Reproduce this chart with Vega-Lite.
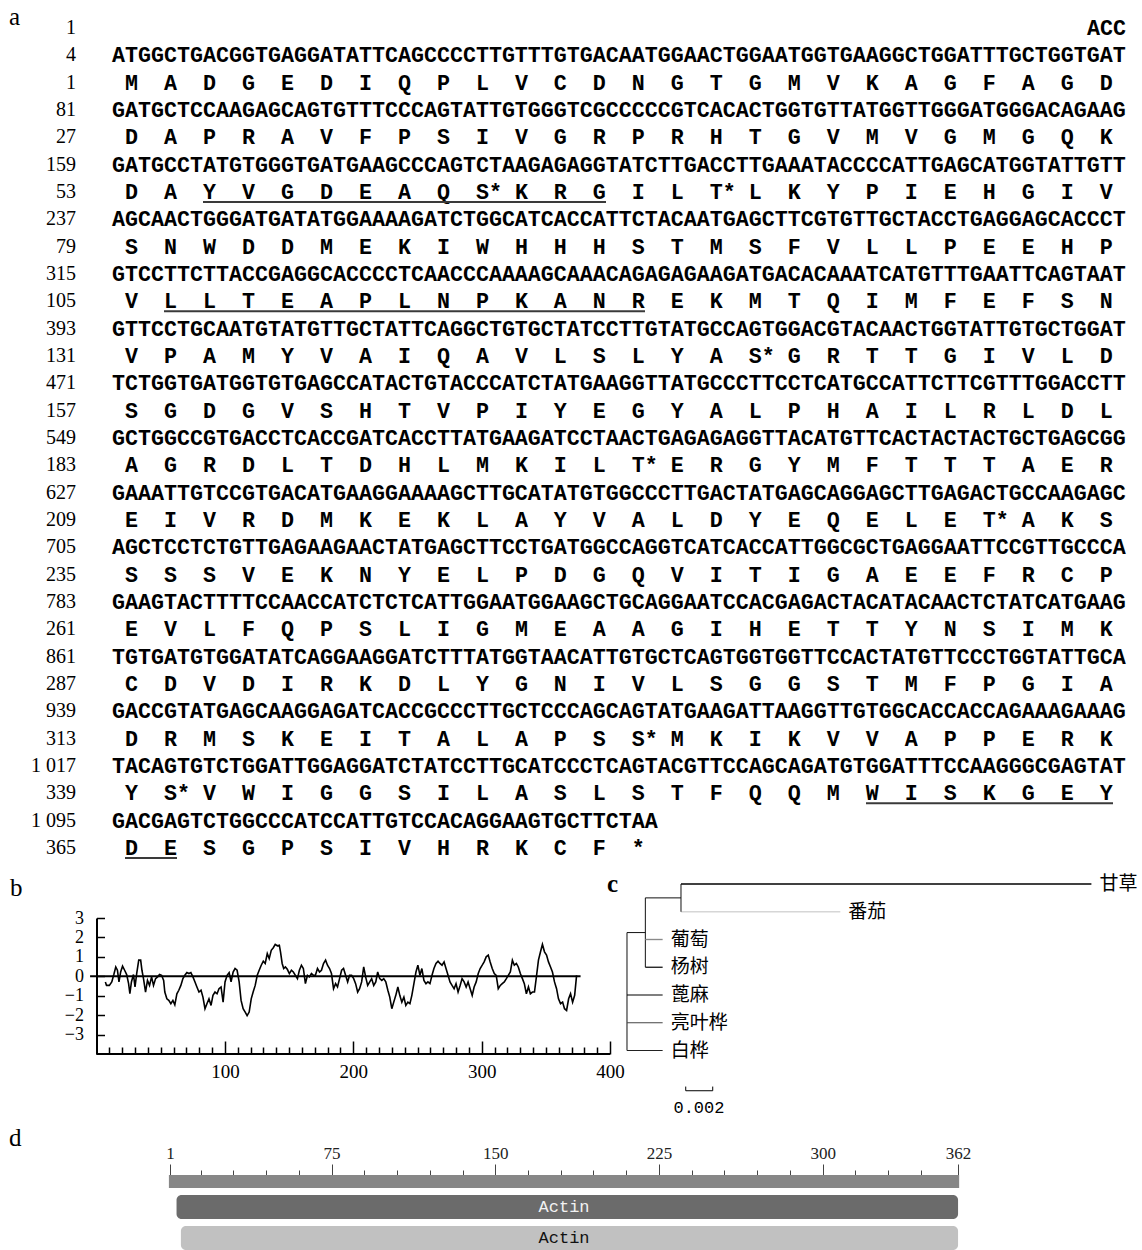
{
"$schema": "https://vega.github.io/schema/vega-lite/v6.json",
"padding": 0,
"background": "white",
"spacing": 0,
"bounds": "flush",
"config": {"view": {"stroke": null}, "font": "Liberation Serif", "axis": {"grid": false, "title": null, "labelColor": "#000", "domainColor": "#000", "tickColor": "#000", "labelFont": "Liberation Serif"}},
"vconcat": [
{
"width": 1142, "height": 918,
"data": {"values": [
{"r": 0, "kind": "nt", "num": "1", "seq": ""},
{"r": 1, "kind": "nt", "num": "4", "seq": "ATGGCTGACGGTGAGGATATTCAGCCCCTTGTTTGTGACAATGGAACTGGAATGGTGAAGGCTGGATTTGCTGGTGAT"},
{"r": 2, "kind": "aa", "num": "1", "seq": "M\u00a0\u00a0A\u00a0\u00a0D\u00a0\u00a0G\u00a0\u00a0E\u00a0\u00a0D\u00a0\u00a0I\u00a0\u00a0Q\u00a0\u00a0P\u00a0\u00a0L\u00a0\u00a0V\u00a0\u00a0C\u00a0\u00a0D\u00a0\u00a0N\u00a0\u00a0G\u00a0\u00a0T\u00a0\u00a0G\u00a0\u00a0M\u00a0\u00a0V\u00a0\u00a0K\u00a0\u00a0A\u00a0\u00a0G\u00a0\u00a0F\u00a0\u00a0A\u00a0\u00a0G\u00a0\u00a0D"},
{"r": 3, "kind": "nt", "num": "81", "seq": "GATGCTCCAAGAGCAGTGTTTCCCAGTATTGTGGGTCGCCCCCGTCACACTGGTGTTATGGTTGGGATGGGACAGAAG"},
{"r": 4, "kind": "aa", "num": "27", "seq": "D\u00a0\u00a0A\u00a0\u00a0P\u00a0\u00a0R\u00a0\u00a0A\u00a0\u00a0V\u00a0\u00a0F\u00a0\u00a0P\u00a0\u00a0S\u00a0\u00a0I\u00a0\u00a0V\u00a0\u00a0G\u00a0\u00a0R\u00a0\u00a0P\u00a0\u00a0R\u00a0\u00a0H\u00a0\u00a0T\u00a0\u00a0G\u00a0\u00a0V\u00a0\u00a0M\u00a0\u00a0V\u00a0\u00a0G\u00a0\u00a0M\u00a0\u00a0G\u00a0\u00a0Q\u00a0\u00a0K"},
{"r": 5, "kind": "nt", "num": "159", "seq": "GATGCCTATGTGGGTGATGAAGCCCAGTCTAAGAGAGGTATCTTGACCTTGAAATACCCCATTGAGCATGGTATTGTT"},
{"r": 6, "kind": "aa", "num": "53", "seq": "D\u00a0\u00a0A\u00a0\u00a0Y\u00a0\u00a0V\u00a0\u00a0G\u00a0\u00a0D\u00a0\u00a0E\u00a0\u00a0A\u00a0\u00a0Q\u00a0\u00a0S*\u00a0K\u00a0\u00a0R\u00a0\u00a0G\u00a0\u00a0I\u00a0\u00a0L\u00a0\u00a0T*\u00a0L\u00a0\u00a0K\u00a0\u00a0Y\u00a0\u00a0P\u00a0\u00a0I\u00a0\u00a0E\u00a0\u00a0H\u00a0\u00a0G\u00a0\u00a0I\u00a0\u00a0V"},
{"r": 7, "kind": "nt", "num": "237", "seq": "AGCAACTGGGATGATATGGAAAAGATCTGGCATCACCATTCTACAATGAGCTTCGTGTTGCTACCTGAGGAGCACCCT"},
{"r": 8, "kind": "aa", "num": "79", "seq": "S\u00a0\u00a0N\u00a0\u00a0W\u00a0\u00a0D\u00a0\u00a0D\u00a0\u00a0M\u00a0\u00a0E\u00a0\u00a0K\u00a0\u00a0I\u00a0\u00a0W\u00a0\u00a0H\u00a0\u00a0H\u00a0\u00a0H\u00a0\u00a0S\u00a0\u00a0T\u00a0\u00a0M\u00a0\u00a0S\u00a0\u00a0F\u00a0\u00a0V\u00a0\u00a0L\u00a0\u00a0L\u00a0\u00a0P\u00a0\u00a0E\u00a0\u00a0E\u00a0\u00a0H\u00a0\u00a0P"},
{"r": 9, "kind": "nt", "num": "315", "seq": "GTCCTTCTTACCGAGGCACCCCTCAACCCAAAAGCAAACAGAGAGAAGATGACACAAATCATGTTTGAATTCAGTAAT"},
{"r": 10, "kind": "aa", "num": "105", "seq": "V\u00a0\u00a0L\u00a0\u00a0L\u00a0\u00a0T\u00a0\u00a0E\u00a0\u00a0A\u00a0\u00a0P\u00a0\u00a0L\u00a0\u00a0N\u00a0\u00a0P\u00a0\u00a0K\u00a0\u00a0A\u00a0\u00a0N\u00a0\u00a0R\u00a0\u00a0E\u00a0\u00a0K\u00a0\u00a0M\u00a0\u00a0T\u00a0\u00a0Q\u00a0\u00a0I\u00a0\u00a0M\u00a0\u00a0F\u00a0\u00a0E\u00a0\u00a0F\u00a0\u00a0S\u00a0\u00a0N"},
{"r": 11, "kind": "nt", "num": "393", "seq": "GTTCCTGCAATGTATGTTGCTATTCAGGCTGTGCTATCCTTGTATGCCAGTGGACGTACAACTGGTATTGTGCTGGAT"},
{"r": 12, "kind": "aa", "num": "131", "seq": "V\u00a0\u00a0P\u00a0\u00a0A\u00a0\u00a0M\u00a0\u00a0Y\u00a0\u00a0V\u00a0\u00a0A\u00a0\u00a0I\u00a0\u00a0Q\u00a0\u00a0A\u00a0\u00a0V\u00a0\u00a0L\u00a0\u00a0S\u00a0\u00a0L\u00a0\u00a0Y\u00a0\u00a0A\u00a0\u00a0S*\u00a0G\u00a0\u00a0R\u00a0\u00a0T\u00a0\u00a0T\u00a0\u00a0G\u00a0\u00a0I\u00a0\u00a0V\u00a0\u00a0L\u00a0\u00a0D"},
{"r": 13, "kind": "nt", "num": "471", "seq": "TCTGGTGATGGTGTGAGCCATACTGTACCCATCTATGAAGGTTATGCCCTTCCTCATGCCATTCTTCGTTTGGACCTT"},
{"r": 14, "kind": "aa", "num": "157", "seq": "S\u00a0\u00a0G\u00a0\u00a0D\u00a0\u00a0G\u00a0\u00a0V\u00a0\u00a0S\u00a0\u00a0H\u00a0\u00a0T\u00a0\u00a0V\u00a0\u00a0P\u00a0\u00a0I\u00a0\u00a0Y\u00a0\u00a0E\u00a0\u00a0G\u00a0\u00a0Y\u00a0\u00a0A\u00a0\u00a0L\u00a0\u00a0P\u00a0\u00a0H\u00a0\u00a0A\u00a0\u00a0I\u00a0\u00a0L\u00a0\u00a0R\u00a0\u00a0L\u00a0\u00a0D\u00a0\u00a0L"},
{"r": 15, "kind": "nt", "num": "549", "seq": "GCTGGCCGTGACCTCACCGATCACCTTATGAAGATCCTAACTGAGAGAGGTTACATGTTCACTACTACTGCTGAGCGG"},
{"r": 16, "kind": "aa", "num": "183", "seq": "A\u00a0\u00a0G\u00a0\u00a0R\u00a0\u00a0D\u00a0\u00a0L\u00a0\u00a0T\u00a0\u00a0D\u00a0\u00a0H\u00a0\u00a0L\u00a0\u00a0M\u00a0\u00a0K\u00a0\u00a0I\u00a0\u00a0L\u00a0\u00a0T*\u00a0E\u00a0\u00a0R\u00a0\u00a0G\u00a0\u00a0Y\u00a0\u00a0M\u00a0\u00a0F\u00a0\u00a0T\u00a0\u00a0T\u00a0\u00a0T\u00a0\u00a0A\u00a0\u00a0E\u00a0\u00a0R"},
{"r": 17, "kind": "nt", "num": "627", "seq": "GAAATTGTCCGTGACATGAAGGAAAAGCTTGCATATGTGGCCCTTGACTATGAGCAGGAGCTTGAGACTGCCAAGAGC"},
{"r": 18, "kind": "aa", "num": "209", "seq": "E\u00a0\u00a0I\u00a0\u00a0V\u00a0\u00a0R\u00a0\u00a0D\u00a0\u00a0M\u00a0\u00a0K\u00a0\u00a0E\u00a0\u00a0K\u00a0\u00a0L\u00a0\u00a0A\u00a0\u00a0Y\u00a0\u00a0V\u00a0\u00a0A\u00a0\u00a0L\u00a0\u00a0D\u00a0\u00a0Y\u00a0\u00a0E\u00a0\u00a0Q\u00a0\u00a0E\u00a0\u00a0L\u00a0\u00a0E\u00a0\u00a0T*\u00a0A\u00a0\u00a0K\u00a0\u00a0S"},
{"r": 19, "kind": "nt", "num": "705", "seq": "AGCTCCTCTGTTGAGAAGAACTATGAGCTTCCTGATGGCCAGGTCATCACCATTGGCGCTGAGGAATTCCGTTGCCCA"},
{"r": 20, "kind": "aa", "num": "235", "seq": "S\u00a0\u00a0S\u00a0\u00a0S\u00a0\u00a0V\u00a0\u00a0E\u00a0\u00a0K\u00a0\u00a0N\u00a0\u00a0Y\u00a0\u00a0E\u00a0\u00a0L\u00a0\u00a0P\u00a0\u00a0D\u00a0\u00a0G\u00a0\u00a0Q\u00a0\u00a0V\u00a0\u00a0I\u00a0\u00a0T\u00a0\u00a0I\u00a0\u00a0G\u00a0\u00a0A\u00a0\u00a0E\u00a0\u00a0E\u00a0\u00a0F\u00a0\u00a0R\u00a0\u00a0C\u00a0\u00a0P"},
{"r": 21, "kind": "nt", "num": "783", "seq": "GAAGTACTTTTCCAACCATCTCTCATTGGAATGGAAGCTGCAGGAATCCACGAGACTACATACAACTCTATCATGAAG"},
{"r": 22, "kind": "aa", "num": "261", "seq": "E\u00a0\u00a0V\u00a0\u00a0L\u00a0\u00a0F\u00a0\u00a0Q\u00a0\u00a0P\u00a0\u00a0S\u00a0\u00a0L\u00a0\u00a0I\u00a0\u00a0G\u00a0\u00a0M\u00a0\u00a0E\u00a0\u00a0A\u00a0\u00a0A\u00a0\u00a0G\u00a0\u00a0I\u00a0\u00a0H\u00a0\u00a0E\u00a0\u00a0T\u00a0\u00a0T\u00a0\u00a0Y\u00a0\u00a0N\u00a0\u00a0S\u00a0\u00a0I\u00a0\u00a0M\u00a0\u00a0K"},
{"r": 23, "kind": "nt", "num": "861", "seq": "TGTGATGTGGATATCAGGAAGGATCTTTATGGTAACATTGTGCTCAGTGGTGGTTCCACTATGTTCCCTGGTATTGCA"},
{"r": 24, "kind": "aa", "num": "287", "seq": "C\u00a0\u00a0D\u00a0\u00a0V\u00a0\u00a0D\u00a0\u00a0I\u00a0\u00a0R\u00a0\u00a0K\u00a0\u00a0D\u00a0\u00a0L\u00a0\u00a0Y\u00a0\u00a0G\u00a0\u00a0N\u00a0\u00a0I\u00a0\u00a0V\u00a0\u00a0L\u00a0\u00a0S\u00a0\u00a0G\u00a0\u00a0G\u00a0\u00a0S\u00a0\u00a0T\u00a0\u00a0M\u00a0\u00a0F\u00a0\u00a0P\u00a0\u00a0G\u00a0\u00a0I\u00a0\u00a0A"},
{"r": 25, "kind": "nt", "num": "939", "seq": "GACCGTATGAGCAAGGAGATCACCGCCCTTGCTCCCAGCAGTATGAAGATTAAGGTTGTGGCACCACCAGAAAGAAAG"},
{"r": 26, "kind": "aa", "num": "313", "seq": "D\u00a0\u00a0R\u00a0\u00a0M\u00a0\u00a0S\u00a0\u00a0K\u00a0\u00a0E\u00a0\u00a0I\u00a0\u00a0T\u00a0\u00a0A\u00a0\u00a0L\u00a0\u00a0A\u00a0\u00a0P\u00a0\u00a0S\u00a0\u00a0S*\u00a0M\u00a0\u00a0K\u00a0\u00a0I\u00a0\u00a0K\u00a0\u00a0V\u00a0\u00a0V\u00a0\u00a0A\u00a0\u00a0P\u00a0\u00a0P\u00a0\u00a0E\u00a0\u00a0R\u00a0\u00a0K"},
{"r": 27, "kind": "nt", "num": "1 017", "seq": "TACAGTGTCTGGATTGGAGGATCTATCCTTGCATCCCTCAGTACGTTCCAGCAGATGTGGATTTCCAAGGGCGAGTAT"},
{"r": 28, "kind": "aa", "num": "339", "seq": "Y\u00a0\u00a0S*\u00a0V\u00a0\u00a0W\u00a0\u00a0I\u00a0\u00a0G\u00a0\u00a0G\u00a0\u00a0S\u00a0\u00a0I\u00a0\u00a0L\u00a0\u00a0A\u00a0\u00a0S\u00a0\u00a0L\u00a0\u00a0S\u00a0\u00a0T\u00a0\u00a0F\u00a0\u00a0Q\u00a0\u00a0Q\u00a0\u00a0M\u00a0\u00a0W\u00a0\u00a0I\u00a0\u00a0S\u00a0\u00a0K\u00a0\u00a0G\u00a0\u00a0E\u00a0\u00a0Y"},
{"r": 29, "kind": "nt", "num": "1 095", "seq": "GACGAGTCTGGCCCATCCATTGTCCACAGGAAGTGCTTCTAA"},
{"r": 30, "kind": "aa", "num": "365", "seq": "D\u00a0\u00a0E\u00a0\u00a0S\u00a0\u00a0G\u00a0\u00a0P\u00a0\u00a0S\u00a0\u00a0I\u00a0\u00a0V\u00a0\u00a0H\u00a0\u00a0R\u00a0\u00a0K\u00a0\u00a0C\u00a0\u00a0F\u00a0\u00a0*"}
]},
"layer": [
{"transform": [{"filter": "datum.kind === 'nt'"}],
 "mark": {"type": "text", "align": "left", "baseline": "middle", "font": "Liberation Mono", "fontWeight": "bold", "fontSize": 21.67, "color": "#000"},
 "encoding": {
  "x": {"datum": 0, "type": "quantitative", "scale": {"type": "linear", "domain": [-8.6154, 79.2308], "nice": false, "zero": false}, "axis": null},
  "y": {"field": "r", "type": "quantitative", "scale": {"type": "linear", "domain": [-1.0245, 32.565], "nice": false, "zero": false, "reverse": true}, "axis": null},
  "text": {"field": "seq"}}},
{"transform": [{"filter": "datum.kind === 'aa'"}],
 "mark": {"type": "text", "align": "left", "baseline": "middle", "font": "Liberation Mono", "fontWeight": "bold", "fontSize": 21.67, "color": "#000"},
 "encoding": {
  "x": {"datum": 1, "type": "quantitative"},
  "y": {"field": "r", "type": "quantitative"},
  "text": {"field": "seq"}}},
{"mark": {"type": "text", "align": "right", "baseline": "middle", "font": "Liberation Serif", "fontSize": 20, "dx": -36, "color": "#000"},
 "encoding": {
  "x": {"datum": 0, "type": "quantitative"},
  "y": {"field": "r", "type": "quantitative"},
  "text": {"field": "num"}}},
{"data": {"values": [{"r": 0, "s": "ACC"}]},
 "mark": {"type": "text", "align": "right", "baseline": "middle", "font": "Liberation Mono", "fontWeight": "bold", "fontSize": 21.67, "color": "#000"},
 "encoding": {
  "x": {"datum": 78, "type": "quantitative"},
  "y": {"field": "r", "type": "quantitative"},
  "text": {"field": "s"}}},
{"data": {"values": [{"r": 6, "c1": 7, "c2": 38}, {"r": 10, "c1": 4, "c2": 41}, {"r": 28, "c1": 58, "c2": 77}, {"r": 30, "c1": 1, "c2": 5}]},
 "mark": {"type": "rule", "strokeWidth": 2, "color": "#3a3a3a", "yOffset": 10},
 "encoding": {
  "x": {"field": "c1", "type": "quantitative"},
  "x2": {"field": "c2"},
  "y": {"field": "r", "type": "quantitative"}}},
{"data": {"values": [{"t": "a"}]},
 "mark": {"type": "text", "align": "left", "baseline": "middle", "font": "Liberation Serif", "fontSize": 25, "color": "#000"},
 "encoding": {
  "x": {"datum": -7.92, "type": "quantitative"},
  "y": {"datum": -0.4, "type": "quantitative"},
  "text": {"field": "t"}}}
]
},
{
"width": 1142, "height": 136,
"layer": [
{"layer": [
{"data": {"values": [
{"p":6.9,"h":-0.29},{"p":7.8,"h":-0.47},{"p":10.0,"h":-0.47},{"p":11.9,"h":-0.29},{"p":13.5,"h":0.09},{"p":15.0,"h":0.48},{"p":16.3,"h":0.31},{"p":17.5,"h":-0.29},{"p":18.8,"h":0.22},{"p":20.3,"h":0.52},{"p":21.9,"h":0.31},{"p":23.5,"h":0.09},{"p":25.0,"h":-0.38},{"p":26.0,"h":-0.9},{"p":27.2,"h":-0.29},{"p":28.8,"h":0.09},{"p":30.0,"h":-0.55},{"p":31.3,"h":0.14},{"p":32.9,"h":0.83},{"p":34.4,"h":0.83},{"p":35.4,"h":0.31},{"p":36.6,"h":-0.12},{"p":38.2,"h":-0.81},{"p":39.7,"h":-0.21},{"p":41.3,"h":-0.47},{"p":42.9,"h":-0.03},{"p":44.4,"h":-0.47},{"p":46.0,"h":-0.12},{"p":47.6,"h":-0.03},{"p":49.1,"h":0.09},{"p":50.7,"h":0.05},{"p":52.3,"h":-0.21},{"p":53.2,"h":-0.81},{"p":54.8,"h":-1.16},{"p":56.3,"h":-1.24},{"p":57.9,"h":-1.41},{"p":59.5,"h":-1.24},{"p":61.0,"h":-1.47},{"p":62.6,"h":-0.9},{"p":64.1,"h":-0.72},{"p":65.7,"h":-0.47},{"p":67.3,"h":-0.12},{"p":68.8,"h":0.05},{"p":70.4,"h":0.19},{"p":72.0,"h":0.14},{"p":73.5,"h":0.19},{"p":75.1,"h":-0.03},{"p":76.7,"h":-0.29},{"p":78.2,"h":-0.55},{"p":79.8,"h":-0.81},{"p":81.4,"h":-0.72},{"p":82.9,"h":-1.07},{"p":84.5,"h":-1.67},{"p":86.0,"h":-1.41},{"p":87.6,"h":-1.16},{"p":89.2,"h":-1.5},{"p":90.7,"h":-0.98},{"p":92.3,"h":-0.81},{"p":93.9,"h":-0.9},{"p":95.4,"h":-0.64},{"p":97.0,"h":-0.55},{"p":98.6,"h":-1.33},{"p":100.1,"h":-0.29},{"p":101.7,"h":0.05},{"p":103.3,"h":0.19},{"p":104.8,"h":-0.29},{"p":106.4,"h":0.22},{"p":107.9,"h":0.4},{"p":109.5,"h":0.31},{"p":111.1,"h":-0.29},{"p":112.6,"h":-1.24},{"p":114.2,"h":-1.67},{"p":115.8,"h":-1.84},{"p":117.3,"h":-2.02},{"p":118.9,"h":-1.84},{"p":120.5,"h":-1.16},{"p":122.0,"h":-0.81},{"p":123.6,"h":-0.47},{"p":125.2,"h":0.05},{"p":126.7,"h":0.31},{"p":128.3,"h":0.57},{"p":129.9,"h":0.78},{"p":131.4,"h":0.66},{"p":133.0,"h":1.17},{"p":134.5,"h":0.91},{"p":136.1,"h":1.34},{"p":137.7,"h":1.47},{"p":139.2,"h":1.64},{"p":140.8,"h":1.57},{"p":142.4,"h":1.6},{"p":143.3,"h":1.26},{"p":144.6,"h":0.66},{"p":145.8,"h":0.4},{"p":147.1,"h":0.48},{"p":148.6,"h":0.36},{"p":150.2,"h":0.14},{"p":151.8,"h":0.31},{"p":153.3,"h":0.22},{"p":154.9,"h":0.05},{"p":156.5,"h":-0.12},{"p":158.0,"h":0.31},{"p":159.6,"h":0.57},{"p":161.1,"h":0.4},{"p":162.7,"h":-0.38},{"p":164.3,"h":0.05},{"p":165.8,"h":-0.03},{"p":167.4,"h":0.14},{"p":169.0,"h":0.05},{"p":170.5,"h":0.05},{"p":172.1,"h":0.4},{"p":173.7,"h":0.22},{"p":175.2,"h":0.31},{"p":176.8,"h":0.66},{"p":178.4,"h":0.83},{"p":179.9,"h":0.57},{"p":181.5,"h":0.4},{"p":183.0,"h":0.14},{"p":184.6,"h":-0.64},{"p":186.2,"h":-0.38},{"p":187.7,"h":-0.55},{"p":189.3,"h":-0.12},{"p":190.9,"h":0.31},{"p":192.4,"h":0.4},{"p":194.0,"h":0.05},{"p":195.6,"h":-0.29},{"p":197.1,"h":0.05},{"p":198.7,"h":0.05},{"p":200.3,"h":-0.12},{"p":201.8,"h":-0.38},{"p":203.4,"h":-0.81},{"p":204.9,"h":-0.64},{"p":206.5,"h":-0.29},{"p":208.1,"h":0.48},{"p":209.6,"h":-0.03},{"p":211.2,"h":-0.47},{"p":212.8,"h":-0.29},{"p":214.3,"h":-0.12},{"p":215.9,"h":-0.47},{"p":217.5,"h":-0.29},{"p":219.0,"h":0.22},{"p":220.6,"h":-0.12},{"p":222.2,"h":-0.21},{"p":223.7,"h":-0.12},{"p":225.3,"h":-0.29},{"p":226.9,"h":-0.72},{"p":228.4,"h":-1.07},{"p":230.0,"h":-1.67},{"p":231.5,"h":-1.33},{"p":233.1,"h":-0.98},{"p":234.7,"h":-0.55},{"p":236.2,"h":-0.98},{"p":237.8,"h":-1.33},{"p":239.4,"h":-1.07},{"p":240.9,"h":-1.5},{"p":242.5,"h":-1.33},{"p":244.1,"h":-1.41},{"p":245.6,"h":-0.98},{"p":247.2,"h":-0.38},{"p":248.8,"h":0.22},{"p":250.3,"h":0.57},{"p":251.9,"h":0.05},{"p":253.4,"h":0.4},{"p":255.0,"h":-0.21},{"p":256.6,"h":-0.38},{"p":258.1,"h":-0.29},{"p":259.7,"h":-0.38},{"p":261.3,"h":0.05},{"p":262.8,"h":0.4},{"p":264.4,"h":0.66},{"p":266.0,"h":0.78},{"p":267.5,"h":0.66},{"p":269.1,"h":0.57},{"p":270.7,"h":0.74},{"p":272.2,"h":0.4},{"p":273.8,"h":0.05},{"p":275.3,"h":-0.29},{"p":276.9,"h":-0.47},{"p":278.5,"h":-0.64},{"p":280.0,"h":-0.38},{"p":281.6,"h":-0.81},{"p":283.2,"h":-0.47},{"p":284.7,"h":-0.12},{"p":286.3,"h":-0.29},{"p":287.9,"h":-0.55},{"p":289.4,"h":-0.29},{"p":291.0,"h":-0.64},{"p":292.6,"h":-0.98},{"p":294.1,"h":-0.55},{"p":295.7,"h":-0.29},{"p":297.3,"h":0.14},{"p":298.8,"h":0.4},{"p":300.4,"h":0.57},{"p":301.9,"h":0.74},{"p":303.5,"h":1.0},{"p":305.1,"h":1.09},{"p":306.6,"h":0.74},{"p":308.2,"h":0.4},{"p":309.8,"h":0.14},{"p":311.3,"h":0.05},{"p":312.9,"h":-0.64},{"p":314.5,"h":-0.47},{"p":316.0,"h":-0.38},{"p":317.6,"h":-0.29},{"p":319.2,"h":-0.12},{"p":320.7,"h":0.05},{"p":322.3,"h":0.22},{"p":323.9,"h":0.83},{"p":325.4,"h":0.57},{"p":327.0,"h":0.66},{"p":328.5,"h":0.48},{"p":330.1,"h":0.14},{"p":331.7,"h":-0.12},{"p":333.2,"h":-0.38},{"p":334.8,"h":-0.9},{"p":336.4,"h":-0.55},{"p":337.9,"h":-0.9},{"p":339.5,"h":-0.81},{"p":341.1,"h":-0.81},{"p":342.6,"h":-0.03},{"p":344.2,"h":0.83},{"p":345.8,"h":1.26},{"p":347.3,"h":1.64},{"p":348.9,"h":1.26},{"p":350.5,"h":1.09},{"p":352.0,"h":0.74},{"p":353.6,"h":0.48},{"p":355.1,"h":0.22},{"p":356.7,"h":-0.29},{"p":358.3,"h":-0.64},{"p":359.8,"h":-1.16},{"p":361.4,"h":-1.41},{"p":363.0,"h":-1.33},{"p":364.5,"h":-1.67},{"p":366.1,"h":-1.76},{"p":367.7,"h":-1.16},{"p":369.2,"h":-0.9},{"p":370.8,"h":-1.33},{"p":372.4,"h":-0.98},{"p":373.9,"h":0.05}
]},
 "mark": {"type": "line", "color": "#000", "strokeWidth": 1.6},
 "encoding": {
  "x": {"field": "p", "type": "quantitative", "scale": {"domain": [-75.156, 814.25], "nice": false, "zero": false},
   "axis": {"orient": "bottom", "domain": false, "values": [100, 200, 300, 400], "labelOverlap": false, "labelFlush": false,
    "tickSize": -13, "labelPadding": 21, "tickWidth": 1.5, "labelFontSize": 19}},
  "y": {"field": "h", "type": "quantitative", "scale": {"domain": [-4, 3], "nice": false, "zero": false},
   "axis": {"orient": "left", "offset": -96.5, "values": [-3,-2,-1,0,1,2,3], "labelOverlap": false, "labelSeparation": 0, "tickSize": -8, "labelPadding": 21, "domainWidth": 2, "tickWidth": 1.5, "labelFontSize": 18}}
 }},
{"data": {"values": [{}]},
 "mark": {"type": "rule", "color": "#000", "strokeWidth": 2},
 "encoding": {"x": {"datum": 0, "type": "quantitative",
   "axis": {"orient": "bottom", "domain": false, "labels": false, "values": [10,20,30,40,50,60,70,80,90,110,120,130,140,150,160,170,180,190,210,220,230,240,250,260,270,280,290,310,320,330,340,350,360,370,380,390], "tickSize": -7, "tickWidth": 1.5}},
   "x2": {"datum": 400}, "y": {"datum": -4, "type": "quantitative", "axis": null}}},
{"data": {"values": [{}]},
 "mark": {"type": "rule", "color": "#000", "strokeWidth": 2},
 "encoding": {"x": {"datum": -5, "type": "quantitative", "axis": null}, "x2": {"datum": 377}, "y": {"datum": 0, "type": "quantitative", "axis": null}}},
{"data": {"values": [{"t": "b"}]},
 "mark": {"type": "text", "align": "left", "baseline": "middle", "font": "Liberation Serif", "fontSize": 25, "color": "#000"},
 "encoding": {"x": {"datum": -67.4, "type": "quantitative", "axis": null}, "y": {"datum": 4.54, "type": "quantitative", "axis": null}, "text": {"field": "t"}}}
],
"resolve": {"axis": {"x": "independent", "y": "independent"}}},
{"layer": [
{"data": {"values": [
{"x1": 0.004, "x2": 0.0344, "y1": 0, "y2": 0, "taxon": "甘草"},
{"x1": 0.004, "x2": 0.0158, "y1": 1, "y2": 1, "taxon": "番茄"},
{"x1": 0.004, "x2": 0.004, "y1": 0, "y2": 1, "taxon": "node"},
{"x1": 0.00136, "x2": 0.004, "y1": 0.5, "y2": 0.5, "taxon": "node"},
{"x1": 0.00136, "x2": 0.00136, "y1": 0.5, "y2": 3, "taxon": "node"},
{"x1": 0.00136, "x2": 0.00264, "y1": 2, "y2": 2, "taxon": "葡萄"},
{"x1": 0.00136, "x2": 0.00264, "y1": 3, "y2": 3, "taxon": "杨树"},
{"x1": 0, "x2": 0.00136, "y1": 1.75, "y2": 1.75, "taxon": "node"},
{"x1": 0, "x2": 0, "y1": 1.75, "y2": 6, "taxon": "node"},
{"x1": 0, "x2": 0.00264, "y1": 4, "y2": 4, "taxon": "蓖麻"},
{"x1": 0, "x2": 0.00264, "y1": 5, "y2": 5, "taxon": "亮叶桦"},
{"x1": 0, "x2": 0.00264, "y1": 6, "y2": 6, "taxon": "白桦"}
]},
 "mark": {"type": "rule"},
 "encoding": {
  "x": {"field": "x1", "type": "quantitative", "scale": {"domain": [-0.046444, 0.038148], "nice": false, "zero": false}, "axis": null},
  "x2": {"field": "x2"},
  "y": {"field": "y1", "type": "quantitative", "scale": {"domain": [1.2252, 6.1261], "nice": false, "zero": false, "reverse": true}, "axis": null},
  "y2": {"field": "y2"},
  "color": {"field": "taxon", "type": "nominal", "legend": null, "scale": {"domain": ["甘草","番茄","葡萄","杨树","蓖麻","亮叶桦","白桦","node"], "range": ["#000000","#d6d6d6","#8a8a8a","#111111","#000000","#444444","#222222","#111111"]}},
  "strokeWidth": {"field": "taxon", "type": "nominal", "legend": null, "scale": {"domain": ["甘草","番茄","葡萄","杨树","蓖麻","亮叶桦","白桦","node"], "range": [1.5, 1, 1.2, 1.3, 2.6, 1, 1.3, 1.3]}}
 }},
{"data": {"values": [
{"name": "甘草", "tip": 0.0344, "row": 0},
{"name": "番茄", "tip": 0.0158, "row": 1},
{"name": "葡萄", "tip": 0.00264, "row": 2},
{"name": "杨树", "tip": 0.00264, "row": 3},
{"name": "蓖麻", "tip": 0.00264, "row": 4},
{"name": "亮叶桦", "tip": 0.00264, "row": 5},
{"name": "白桦", "tip": 0.00264, "row": 6}
]},
 "mark": {"type": "text", "align": "left", "baseline": "middle", "dx": 8, "font": "Noto Sans CJK SC", "fontSize": 19, "color": "#000"},
 "encoding": {"x": {"field": "tip", "type": "quantitative"}, "y": {"field": "row", "type": "quantitative"}, "text": {"field": "name"}}},
{"data": {"values": [
{"x1": 0.00435, "x2": 0.00635, "y1": 7.45, "y2": 7.45},
{"x1": 0.00435, "x2": 0.00435, "y1": 7.3, "y2": 7.45},
{"x1": 0.00635, "x2": 0.00635, "y1": 7.3, "y2": 7.45}
]},
 "mark": {"type": "rule", "color": "#000", "strokeWidth": 1},
 "encoding": {"x": {"field": "x1", "type": "quantitative"}, "x2": {"field": "x2"}, "y": {"field": "y1", "type": "quantitative"}, "y2": {"field": "y2"}}},
{"data": {"values": [{"t": "0.002"}]},
 "mark": {"type": "text", "align": "center", "baseline": "middle", "font": "Liberation Mono", "fontSize": 17, "color": "#000"},
 "encoding": {"x": {"datum": 0.00533, "type": "quantitative"}, "y": {"datum": 8.07, "type": "quantitative"}, "text": {"field": "t"}}},
{"data": {"values": [{"t": "c"}]},
 "mark": {"type": "text", "align": "left", "baseline": "middle", "font": "Liberation Serif", "fontWeight": "bold", "fontSize": 25, "color": "#000"},
 "encoding": {"x": {"datum": -0.00148, "type": "quantitative"}, "y": {"datum": 0, "type": "quantitative"}, "text": {"field": "t"}}}
]}
],
"resolve": {"scale": {"x": "independent", "y": "independent"}, "axis": {"x": "independent", "y": "independent"}}
},
{"width": 1142, "height": 121, "data": {"values": []}, "mark": "text"},
{
"width": 1142, "height": 75,
"data": {"values": [
{"track": "protein", "label": "", "start": 0.5, "end": 362.5},
{"track": "Actin-1", "label": "Actin", "start": 4, "end": 362},
{"track": "Actin-2", "label": "Actin", "start": 6, "end": 362}
]},
"layer": [
{"transform": [{"filter": "datum.track === 'protein'"}],
 "mark": {"type": "bar", "height": 13, "yOffset": -6, "color": "#878787"},
 "encoding": {
  "x": {"field": "start", "type": "quantitative", "scale": {"domain": [-76.87, 446.26], "nice": false, "zero": false},
   "axis": {"orient": "top", "domain": false, "values": [1, 75, 150, 225, 300, 362], "labelOverlap": false, "labelFlush": false,
    "tickSize": 11, "labelPadding": 2, "tickColor": "#444", "tickWidth": 1, "labelFontSize": 17, "labelColor": "#222"}},
  "x2": {"field": "end"},
  "y": {"field": "track", "type": "nominal", "scale": {"domain": ["protein", "Actin-1", "Actin-2"], "paddingInner": 0, "paddingOuter": 0}, "axis": null}
 }},
{"transform": [{"filter": "datum.track === 'Actin-1'"}],
 "mark": {"type": "bar", "height": 24, "yOffset": -5.5, "cornerRadius": 5, "color": "#6b6b6b"},
 "encoding": {"x": {"field": "start", "type": "quantitative",
   "axis": {"orient": "top", "domain": false, "labels": false, "values": [15,30,45,60,90,105,120,135,165,180,195,210,240,255,270,285,315,330,345], "tickSize": 5, "tickColor": "#444", "tickWidth": 1}},
  "x2": {"field": "end"}, "y": {"field": "track", "type": "nominal"}}},
{"transform": [{"filter": "datum.track === 'Actin-2'"}],
 "mark": {"type": "bar", "height": 24, "yOffset": 0.5, "cornerRadius": 5, "color": "#c1c1c1"},
 "encoding": {"x": {"field": "start", "type": "quantitative", "axis": null}, "x2": {"field": "end"}, "y": {"field": "track", "type": "nominal"}}},
{"transform": [{"filter": "datum.track === 'Actin-1'"}],
 "mark": {"type": "text", "align": "center", "baseline": "middle", "yOffset": -5.5, "font": "Liberation Mono", "fontSize": 17, "color": "#f2f2f2"},
 "encoding": {"x": {"datum": 181.5, "type": "quantitative", "axis": null}, "y": {"field": "track", "type": "nominal"}, "text": {"field": "label"}}},
{"transform": [{"filter": "datum.track === 'Actin-2'"}],
 "mark": {"type": "text", "align": "center", "baseline": "middle", "yOffset": 0.5, "font": "Liberation Mono", "fontSize": 17, "color": "#111"},
 "encoding": {"x": {"datum": 181.5, "type": "quantitative", "axis": null}, "y": {"field": "track", "type": "nominal"}, "text": {"field": "label"}}},
{"transform": [{"filter": "datum.track === 'protein'"}],
 "mark": {"type": "text", "align": "left", "baseline": "middle", "yOffset": -49.5, "font": "Liberation Serif", "fontSize": 25, "color": "#000", "text": "d"},
 "encoding": {"x": {"datum": -72.75, "type": "quantitative", "axis": null}, "y": {"field": "track", "type": "nominal"}}}
],
"resolve": {"axis": {"x": "independent"}}
}
]
}
